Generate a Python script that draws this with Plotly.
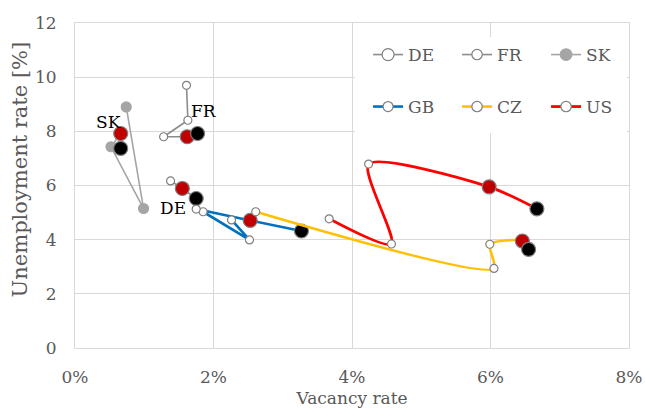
import plotly.graph_objects as go

# Vacancy rate [%] and unemployment rate [%] per country, in time order.
# The last two points of each path are highlighted (red, then black).
de_vac = [1.38, 1.55, 1.75]
de_unemp = [6.17, 5.89, 5.52]

fr_vac = [1.61, 1.63, 1.28, 1.62, 1.77]
fr_unemp = [9.70, 8.41, 7.80, 7.80, 7.92]

sk_vac = [0.74, 0.99, 0.52, 0.66, 0.66]
sk_unemp = [8.90, 5.15, 7.43, 7.92, 7.37]

gb_vac = [2.26, 2.52, 1.85, 1.75, 2.53, 3.27]
gb_unemp = [4.73, 3.99, 5.03, 5.13, 4.71, 4.32]

cz_vac = [2.61, 6.05, 5.99, 6.46, 6.55]
cz_unemp = [5.03, 2.94, 3.83, 3.95, 3.64]

us_vac = [3.67, 4.57, 4.24, 5.98, 6.67]
us_unemp = [4.77, 3.84, 6.79, 5.95, 5.14]

x_ticks = [0, 2, 4, 6, 8]
x_tick_labels = ["0%", "2%", "4%", "6%", "8%"]
y_ticks = [0, 2, 4, 6, 8, 10, 12]

FONT = "DejaVu Serif"
TXT = "#595959"
GRID = "#d9d9d9"
RIM = "#7f7f7f"
RED = "#c00000"
BLACK = "#000000"


def point_style(n, base_fill, base_rim, base_size):
    fills = [base_fill] * (n - 2) + [RED, BLACK]
    rims = [base_rim] * (n - 2) + [RIM, RIM]
    sizes = [base_size] * (n - 2) + [14, 14]
    return fills, rims, sizes


def add_series(fig, name, xs, ys, color, width, legend,
               shape="linear", base_fill="white", base_rim=RIM, base_size=8):
    fills, rims, sizes = point_style(len(xs), base_fill, base_rim, base_size)
    fig.add_trace(go.Scatter(
        x=xs, y=ys, name=name, mode="lines+markers", legend=legend,
        opacity=1,
        line=dict(color=color, width=width, shape=shape, smoothing=0.7),
        marker=dict(symbol="circle", color=fills, size=sizes, opacity=1,
                    line=dict(color=rims, width=1.2)),
        cliponaxis=False,
    ))


fig = go.Figure()
add_series(fig, "DE", de_vac, de_unemp, "#8c8c8c", 1.6, "legend")
add_series(fig, "FR", fr_vac, fr_unemp, "#8c8c8c", 1.6, "legend")
add_series(fig, "SK", sk_vac, sk_unemp, "#a5a5a5", 1.6, "legend",
           base_fill="#a5a5a5", base_rim="#a5a5a5", base_size=10)
add_series(fig, "GB", gb_vac, gb_unemp, "#0070c0", 2.6, "legend2")
add_series(fig, "CZ", cz_vac, cz_unemp, "#ffc000", 2.6, "legend2", shape="spline")
add_series(fig, "US", us_vac, us_unemp, "#ff0000", 2.8, "legend2", shape="spline")

# Country tags beside the highlighted points
tags = [("SK", 0.48, 8.35), ("FR", 1.86, 8.76), ("DE", 1.41, 5.18)]
for text, tx, ty in tags:
    fig.add_annotation(x=tx, y=ty, text=text, showarrow=False,
                       font=dict(family=FONT, size=17, color="#000000"))

# Vertical axis title
fig.add_annotation(xref="paper", yref="paper", x=-0.099, y=0.55,
                   xanchor="center", yanchor="middle", textangle=-90,
                   text="Unemployment rate [%]", showarrow=False,
                   font=dict(family=FONT, size=21, color=TXT))

legend_common = dict(
    orientation="h", xanchor="left", yanchor="middle",
    bgcolor="rgba(0,0,0,0)", borderwidth=0,
    font=dict(family=FONT, size=17, color=TXT),
    entrywidthmode="pixels", entrywidth=44,
)

fig.update_layout(
    width=645, height=408,
    margin=dict(l=75, r=16, t=23, b=60, autoexpand=False),
    paper_bgcolor="white", plot_bgcolor="white",
    font=dict(family=FONT, size=17, color=TXT),
    showlegend=True,
    legend=dict(x=0.529, y=0.9015, **legend_common),
    legend2=dict(x=0.529, y=0.7415, **legend_common),
    shapes=[dict(type="rect", xref="paper", yref="paper",
                 x0=0.505, x1=0.996, y0=0.6615, y1=0.957,
                 fillcolor="white", line=dict(width=0), layer="above")],
    xaxis=dict(
        range=[0, 8], tickvals=x_ticks, ticktext=x_tick_labels,
        automargin=False,
        showgrid=True, gridcolor=GRID, gridwidth=1,
        zeroline=False, showline=True, linecolor=GRID, mirror=True,
        ticks="", ticklabelstandoff=14,
        title=dict(text="Vacancy rate", standoff=8,
                   font=dict(family=FONT, size=17, color=TXT)),
        tickfont=dict(family=FONT, size=17, color=TXT),
    ),
    yaxis=dict(
        range=[0, 12], tickvals=y_ticks, automargin=False,
        showgrid=True, gridcolor=GRID, gridwidth=1,
        zeroline=False, showline=True, linecolor=GRID, mirror=True,
        ticks="", ticklabelstandoff=14,
        tickfont=dict(family=FONT, size=17, color=TXT),
    ),
)

fig.write_html("out.html")
